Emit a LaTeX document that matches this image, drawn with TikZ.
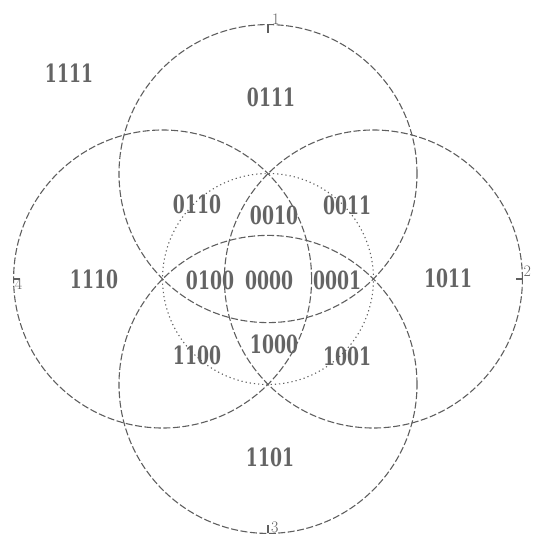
\documentclass[tikz,border=0pt]{standalone}
\usepackage{fontspec}
\newfontfamily\digf{DejaVu Serif}[FakeStretch=0.69]
\definecolor{ink}{RGB}{95,95,95}
\definecolor{txt}{RGB}{100,100,100}
\tikzset{
  ring/.style={draw=ink, circle, line width=1.1pt, dash pattern=on 7pt off 2.5pt, inner sep=0pt, outer sep=0pt, minimum size=298pt},
  inner ring/.style={draw=ink, circle, line width=1.1pt, dash pattern=on 1.2pt off 3pt, inner sep=0pt, outer sep=0pt, minimum size=211pt},
  code/.style={text=txt, font=\digf\bfseries\fontsize{25}{25}\selectfont, inner sep=0pt},
  tiny/.style={text=ink, font=\fontsize{16}{16}\selectfont, inner sep=0pt},
  tick/.style={draw=ink, line width=1.2pt}
}
\begin{document}
\begin{tikzpicture}[x=1pt,y=-1pt]
\useasboundingbox (0,0) rectangle (535,537);
% circles
\node[inner ring] (mid) at (268,279) {};
\node[ring] (c1) at (268,173.6) {};
\node[ring] (c2) at (373.4,279) {};
\node[ring] (c3) at (268,384.4) {};
\node[ring] (c4) at (162.6,279) {};
% ticks and numbers
\draw[tick] (c1.north) -- ++(0,8);
\node[tiny, anchor=south west] (n1) at ([xshift=4pt,yshift=0pt]c1.north) {1};
\draw[tick] (c2.east) -- ++(-6,0);
\node[tiny, anchor=west] (n2) at ([xshift=1pt,yshift=8pt]c2.east) {2};
\draw[tick] (c3.south) -- ++(0,-8);
\node[tiny, anchor=south west] (n3) at ([xshift=3pt,yshift=0pt]c3.south) {3};
\draw[tick] (c4.west) -- ++(6,0);
\node[tiny, anchor=west] (n4) at ([xshift=1pt,yshift=-5pt]c4.west) {4};
% labels
\node[code] (l1111) at (69,73) {1111};
\node[code] (l0111) at (271,97) {0111};
\node[code] (l0110) at (197,204) {0110};
\node[code] (l0010) at (274,215) {0010};
\node[code] (l0011) at (347,205) {0011};
\node[code] (l1110) at (94,279) {1110};
\node[code] (l0100) at (210,280) {0100};
\node[code] (l0000) at (269,280) {0000};
\node[code] (l0001) at (337,280) {0001};
\node[code] (l1011) at (448,278) {1011};
\node[code] (l1100) at (197,355) {1100};
\node[code] (l1000) at (274,344) {1000};
\node[code] (l1001) at (347,356) {1001};
\node[code] (l1101) at (270,457) {1101};
\end{tikzpicture}
\end{document}
